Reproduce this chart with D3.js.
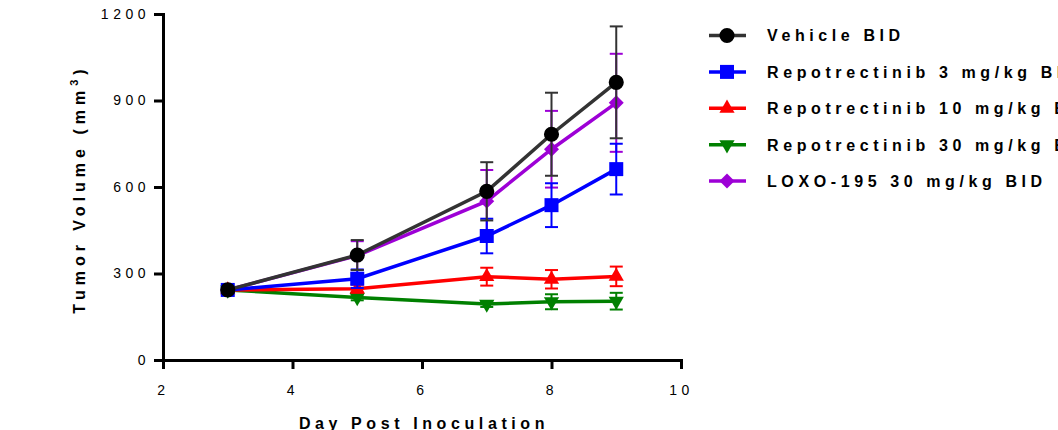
<!DOCTYPE html>
<html>
<head>
<meta charset="utf-8">
<script src="https://cdn.jsdelivr.net/npm/d3@7"></script>
<style>
  body { margin: 0; background: #fff; }
  svg { display: block; }
  text { font-family: Arial, "Liberation Sans", sans-serif; }
</style>
</head>
<body>
<div id="chart"></div>
<script>
// days post inoculation
var days = [3, 5, 7, 8, 9];

// mean tumor volume (mm3) and SEM per group
var vehicle     = [243, 364, 585, 783, 963];
var vehicleSem  = [6, 52, 101, 144, 194];
var rep3        = [243, 282, 430, 537, 662];
var rep3Sem     = [6, 32, 60, 76, 88];
var rep10       = [243, 247, 289, 280, 290];
var rep10Sem    = [6, 14, 31, 32, 34];
var rep30       = [243, 217, 194, 202, 204];
var rep30Sem    = [6, 10, 10, 26, 29];
var loxo        = [243, 362, 551, 731, 892];
var loxoSem     = [6, 50, 108, 133, 170];

var groupNames = ['Vehicle BID', 'Repotrectinib 3 mg/kg BID', 'Repotrectinib 10 mg/kg BID',
                  'Repotrectinib 30 mg/kg BID', 'LOXO-195 30 mg/kg BID'];
var xTicks = [2, 4, 6, 8, 10];
var yTicks = [0, 300, 600, 900, 1200];

var groups = [
    { name: groupNames[0], mean: vehicle, sem: vehicleSem, line: '#333333', fill: '#000000', err: '#333333', shape: 'circle' },
    { name: groupNames[1], mean: rep3, sem: rep3Sem, line: '#0000ff', fill: '#0000ff', err: '#0000ff', shape: 'square' },
    { name: groupNames[2], mean: rep10, sem: rep10Sem, line: '#ff0000', fill: '#ff0000', err: '#ff0000', shape: 'up' },
    { name: groupNames[3], mean: rep30, sem: rep30Sem, line: '#008000', fill: '#008000', err: '#008000', shape: 'down' },
    { name: groupNames[4], mean: loxo, sem: loxoSem, line: '#9d00d6', fill: '#9d00d6', err: '#9d00d6', shape: 'diamond' }
];

var w = 1058, h = 430;
var pLeft = 163, pRight = 681, pTop = 14, pBottom = 360;

var x = d3.scaleLinear().domain([2, 10]).range([pLeft, pRight]);
var y = d3.scaleLinear().domain([0, 1200]).range([pBottom, pTop]);

var svg = d3.select('#chart').append('svg')
    .attr('width', w)
    .attr('height', h);

function marker(shape) {
    if (shape === 'circle') return { d: d3.symbol().type(d3.symbolCircle).size(180)(), rot: 0 };
    if (shape === 'square') return { d: d3.symbol().type(d3.symbolSquare).size(196)(), rot: 0 };
    if (shape === 'up') return { d: d3.symbol().type(d3.symbolTriangle).size(100)(), rot: 0 };
    if (shape === 'down') return { d: d3.symbol().type(d3.symbolTriangle).size(100)(), rot: 180 };
    return { d: d3.symbol().type(d3.symbolSquare).size(112)(), rot: 45 };
}

// axes
var yAxis = d3.axisLeft(y).tickValues(yTicks).tickFormat(d3.format('d'))
    .tickSize(9).tickSizeOuter(0).tickPadding(4);
var xAxis = d3.axisBottom(x).tickValues(xTicks).tickFormat(d3.format('d'))
    .tickSize(9).tickSizeOuter(0).tickPadding(16);

var gy = svg.append('g').attr('transform', 'translate(' + pLeft + ',0)').call(yAxis);
var gx = svg.append('g').attr('transform', 'translate(0,' + pBottom + ')').call(xAxis);

[gy, gx].forEach(function(g) {
    g.select('.domain').attr('stroke', '#000').attr('stroke-width', 3).attr('stroke-linecap', 'square');
    g.selectAll('.tick line').attr('stroke', '#000').attr('stroke-width', 3);
    g.selectAll('.tick text')
        .attr('fill', '#000')
        .style('font-size', '14px')
        .style('letter-spacing', '4.5px');
});

// series, drawn back to front so Vehicle ends on top
var plot = svg.append('g');
var lineGen = d3.line()
    .x(function(d) { return x(d.day); })
    .y(function(d) { return y(d.v); });

groups.slice().reverse().forEach(function(g) {
    var pts = days.map(function(dd, i) { return { day: dd, v: g.mean[i], s: g.sem[i] }; });
    var sg = plot.append('g');

    var eb = sg.selectAll('g.err').data(pts).enter().append('g')
        .attr('stroke', g.err).attr('stroke-width', 2);
    eb.append('line')
        .attr('x1', function(d) { return x(d.day); })
        .attr('x2', function(d) { return x(d.day); })
        .attr('y1', function(d) { return y(d.v - d.s); })
        .attr('y2', function(d) { return y(d.v + d.s); });
    eb.append('line')
        .attr('x1', function(d) { return x(d.day) - 6.5; })
        .attr('x2', function(d) { return x(d.day) + 6.5; })
        .attr('y1', function(d) { return y(d.v + d.s); })
        .attr('y2', function(d) { return y(d.v + d.s); });
    eb.append('line')
        .attr('x1', function(d) { return x(d.day) - 6.5; })
        .attr('x2', function(d) { return x(d.day) + 6.5; })
        .attr('y1', function(d) { return y(d.v - d.s); })
        .attr('y2', function(d) { return y(d.v - d.s); });

    sg.append('path')
        .datum(pts)
        .attr('fill', 'none')
        .attr('stroke', g.line)
        .attr('stroke-width', 3.5)
        .attr('d', lineGen);

    var m = marker(g.shape);
    sg.selectAll('path.pt').data(pts).enter().append('path')
        .attr('class', 'pt')
        .attr('d', m.d)
        .attr('fill', g.fill)
        .attr('transform', function(d) {
            return 'translate(' + x(d.day) + ',' + y(d.v) + ') rotate(' + m.rot + ')';
        });
});

// legend
var legend = svg.append('g').attr('transform', 'translate(709,35.5)');
groups.forEach(function(g, i) {
    var row = legend.append('g').attr('transform', 'translate(0,' + (i * 36.4) + ')');
    row.append('line')
        .attr('x1', 0).attr('x2', 37)
        .attr('stroke', g.line).attr('stroke-width', 3.5);
    var m = marker(g.shape);
    row.append('path')
        .attr('d', m.d)
        .attr('fill', g.fill)
        .attr('transform', 'translate(18,0) rotate(' + m.rot + ')');
    row.append('text')
        .attr('x', 58)
        .attr('y', 5.8)
        .style('font-size', '16px')
        .style('font-weight', 'bold')
        .style('letter-spacing', '4.6px')
        .text(g.name);
});

// axis titles
svg.append('text')
    .attr('x', (pLeft + pRight) / 2 + 2)
    .attr('y', 429)
    .attr('text-anchor', 'middle')
    .style('font-size', '16px')
    .style('font-weight', 'bold')
    .style('letter-spacing', '4.6px')
    .text('Day Post Inoculation');

var yt = svg.append('text')
    .attr('transform', 'translate(85,' + ((pTop + pBottom) / 2 + 2) + ') rotate(-90)')
    .attr('text-anchor', 'middle')
    .style('font-size', '16px')
    .style('font-weight', 'bold')
    .style('letter-spacing', '5px');
yt.append('tspan').text('Tumor Volume (mm');
yt.append('tspan').attr('dy', -7).style('font-size', '11px').text('3');
yt.append('tspan').attr('dy', 7).text(')');
</script>
</body>
</html>
